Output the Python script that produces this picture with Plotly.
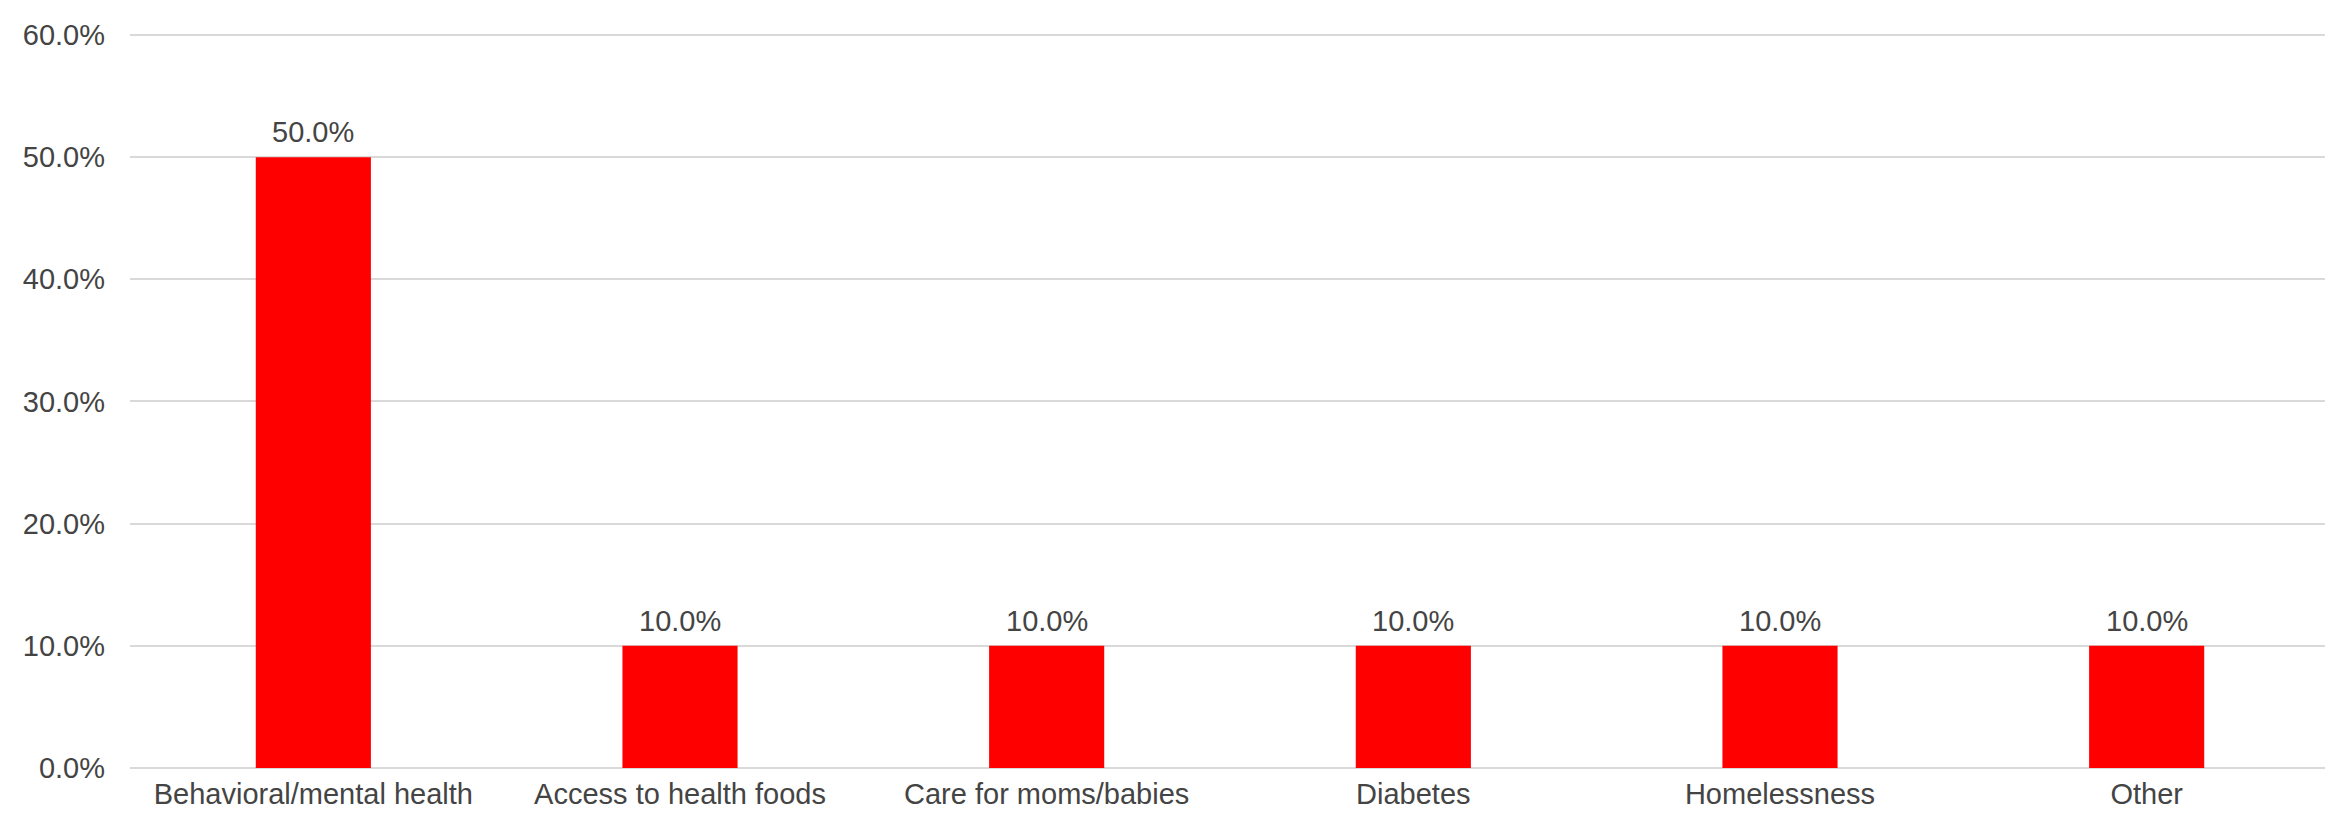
import plotly.graph_objects as go

categories = ["Behavioral/mental health", "Access to health foods", "Care for moms/babies",
              "Diabetes", "Homelessness", "Other"]
shares = [0.50, 0.10, 0.10, 0.10, 0.10, 0.10]
y_ticks = [0.0, 0.1, 0.2, 0.3, 0.4, 0.5, 0.6]

FONT = "Liberation Sans, Arial, sans-serif"
TXT = "#444444"

fig = go.Figure()
fig.add_trace(go.Bar(
    x=categories, y=shares,
    marker=dict(color="#ff0000", line=dict(width=0)),
    hoverinfo="skip",
))

for c, v in zip(categories, shares):
    fig.add_annotation(
        x=c, y=v, text=f"{v*100:.1f}%", showarrow=False,
        yanchor="bottom", yshift=7,
        font=dict(family=FONT, size=29, color=TXT),
    )

fig.update_layout(
    width=2333, height=813,
    margin=dict(l=122, r=11, t=17, b=50),
    paper_bgcolor="white", plot_bgcolor="white",
    bargap=0.686,
    showlegend=False,
    font=dict(family=FONT, size=29, color=TXT),
)
fig.update_xaxes(
    showgrid=False, showline=False, zeroline=False, ticks="",
    tickfont=dict(family=FONT, size=29, color=TXT),
    ticklabelstandoff=6,
)
fig.update_yaxes(
    range=[0, 0.6016], tickvals=y_ticks, tickformat=".1%",
    showgrid=True, gridcolor="#d9d9d9", gridwidth=2,
    zeroline=True, zerolinecolor="#d9d9d9", zerolinewidth=2,
    showline=False, ticks="",
    tickfont=dict(family=FONT, size=29, color=TXT),
    ticklabelstandoff=24,
)

fig.write_html("out.html")
